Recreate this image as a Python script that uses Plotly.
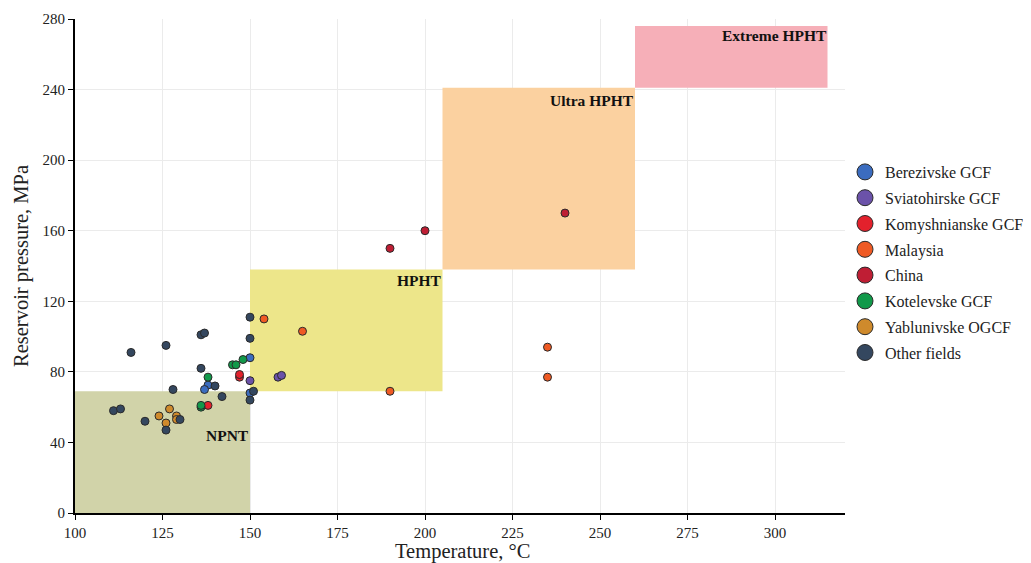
import plotly.graph_objects as go

# ---- data ----
series_names = ["Berezivske GCF", "Sviatohirske GCF", "Komyshnianske GCF", "Malaysia",
                "China", "Kotelevske GCF", "Yablunivske OGCF", "Other fields"]
series_colors = ["#3b6cbf", "#6b52a9", "#e3212c", "#ef5a24", "#bf1e34", "#11994a", "#cf8a2c", "#34475f"]

berezivske_t = [150, 138, 137, 150]
berezivske_p = [88, 72.5, 70, 68]
sviatohirske_t = [150, 158, 159]
sviatohirske_p = [75, 77, 78]
komysh_t = [147, 147, 138]
komysh_p = [77, 78.5, 61]
malaysia_t = [154, 165, 190, 235, 235]
malaysia_p = [110, 103, 69, 94, 77]
china_t = [190, 200, 240]
china_p = [150, 160, 170]
kotel_t = [145, 146, 148, 138, 136, 136]
kotel_p = [84, 84, 87, 77, 60, 61]
yablun_t = [127, 124, 129, 126, 129]
yablun_p = [59, 55, 55, 51, 53]
other_t = [116, 126, 136, 137, 150, 150, 136, 140, 128, 142, 151, 150, 111, 113, 120, 130, 126]
other_p = [91, 95, 101, 102, 111, 99, 82, 72, 70, 66, 69, 64, 58, 59, 52, 53, 47]

series_t = [berezivske_t, sviatohirske_t, komysh_t, malaysia_t, china_t, kotel_t, yablun_t, other_t]
series_p = [berezivske_p, sviatohirske_p, komysh_p, malaysia_p, china_p, kotel_p, yablun_p, other_p]

zone_names = ["NPNT", "HPHT", "Ultra HPHT", "Extreme HPHT"]
zone_t0 = [100, 150, 205, 260]
zone_t1 = [150, 205, 260, 315]
zone_p0 = [0, 69, 138, 241]
zone_p1 = [69, 138, 241, 276]
zone_colors = ["#d1d3a9", "#ede68a", "#fbd1a0", "#f6afb8"]
zone_label_p = [44, 132, 234, 270.5]

x_ticks = [100, 125, 150, 175, 200, 225, 250, 275, 300]
y_ticks = [0, 40, 80, 120, 160, 200, 240, 280]

x_title = "Temperature, °C"
y_title = "Reservoir pressure, MPa"

FONT = "Liberation Serif, Times New Roman, serif"

fig = go.Figure()

for name, col, t, p in zip(series_names, series_colors, series_t, series_p):
    fig.add_trace(go.Scatter(
        x=t, y=p, mode="markers", name=name, showlegend=False,
        marker=dict(size=8, color=col, line=dict(color="#2a2a2a", width=1)),
        hoverinfo="x+y+name"))

# legend-only entries with bigger symbols
for name, col in zip(series_names, series_colors):
    fig.add_trace(go.Scatter(
        x=[None], y=[None], mode="markers", name=name, legendgroup=name,
        marker=dict(size=16, color=col, line=dict(color="#2a2a2a", width=1))))

for n, t0, t1, p0, p1, c, lp in zip(zone_names, zone_t0, zone_t1, zone_p0, zone_p1, zone_colors, zone_label_p):
    fig.add_shape(type="rect", x0=t0, x1=t1, y0=p0, y1=p1, xref="x", yref="y",
                  fillcolor=c, line=dict(width=0), layer="between")
    fig.add_annotation(x=t1, y=lp, xref="x", yref="y", text="<b>" + n + "</b>",
                       showarrow=False, xanchor="right", yanchor="middle", xshift=1,
                       font=dict(family=FONT, size=15.5, color="#111"))

# axis titles
fig.add_annotation(x=0.5026, y=-0.077, xref="paper", yref="paper", text=x_title,
                   showarrow=False, xanchor="center", yanchor="middle",
                   font=dict(family=FONT, size=20.5, color="#222"))
fig.add_annotation(x=-0.0701, y=0.5, xref="paper", yref="paper", text=y_title,
                   showarrow=False, xanchor="center", yanchor="middle", textangle=-90,
                   font=dict(family=FONT, size=20.5, color="#222"))

# page has an 8px body margin: figure spans 8..1031 x 8..563
fig.update_layout(
    width=1023, height=555,
    margin=dict(l=67, r=186, t=11, b=50, autoexpand=False),
    paper_bgcolor="white", plot_bgcolor="white",
    font=dict(family=FONT, size=15, color="#222"),
    legend=dict(x=1.0, y=0.7247, xanchor="left", yanchor="top",
                font=dict(family=FONT, size=16, color="#222"),
                tracegroupgap=2, itemsizing="trace", bgcolor="rgba(0,0,0,0)"),
    xaxis=dict(range=[100, 320], tickvals=x_ticks, showgrid=True, gridcolor="#ebebeb",
               gridwidth=1, showline=True, linecolor="black", linewidth=2,
               ticks="outside", ticklen=5, tickcolor="black", zeroline=False, automargin=False,
               tickfont=dict(family=FONT, size=15)),
    yaxis=dict(range=[0, 280], tickvals=y_ticks, showgrid=True, gridcolor="#ebebeb",
               gridwidth=1, showline=True, linecolor="black", linewidth=2,
               ticks="outside", ticklen=5, tickcolor="black", zeroline=False, automargin=False,
               tickfont=dict(family=FONT, size=15)),
)

fig.write_html("out.html")
